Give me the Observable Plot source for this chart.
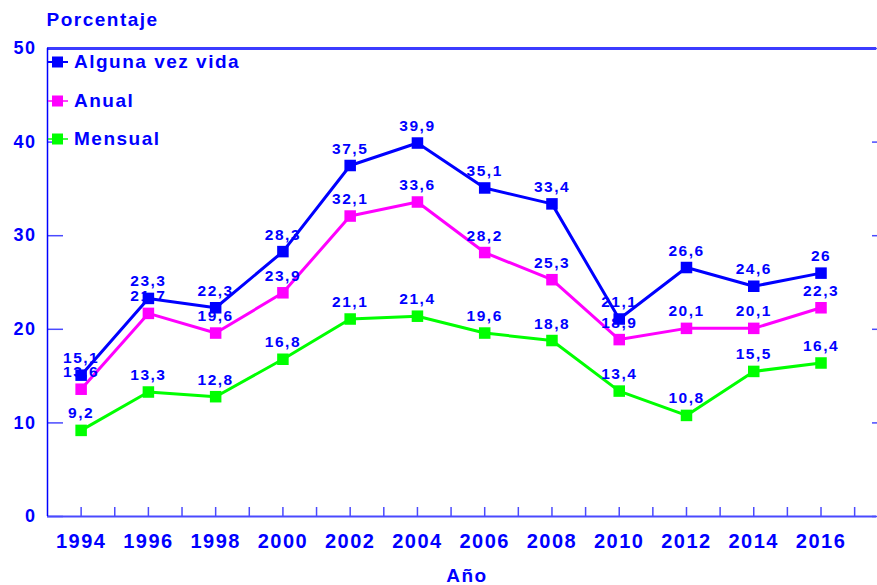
<!DOCTYPE html>
<html>
<head>
<meta charset="utf-8">
<script src="https://cdn.jsdelivr.net/npm/d3@7"></script>
<script src="https://cdn.jsdelivr.net/npm/@observablehq/plot@0.6"></script>
<style>
  html, body { margin: 0; padding: 0; background: #fff; }
  #wrap { position: relative; width: 877px; height: 585px; font-family: "Liberation Sans", Arial, sans-serif; font-weight: bold; color: #0000ff; letter-spacing: 1.5px; }
  #legend { position: absolute; left: 48px; top: 52px; }
  .row { display: flex; align-items: center; height: 20px; margin-bottom: 18.5px; font-size: 19px; }
  .row svg { margin-right: 6px; }
</style>
</head>
<body>
<div id="wrap"></div>
<script>
const years = [1994, 1996, 1998, 2000, 2002, 2004, 2006, 2008, 2010, 2012, 2014, 2016];
const seriesNames = ["Alguna vez vida", "Anual", "Mensual"];
const seriesColors = ["#0000ff", "#ff00ff", "#00ff00"];
const algunaVez = [15.1, 23.3, 22.3, 28.3, 37.5, 39.9, 35.1, 33.4, 21.1, 26.6, 24.6, 26];
const anual = [13.6, 21.7, 19.6, 23.9, 32.1, 33.6, 28.2, 25.3, 18.9, 20.1, 20.1, 22.3];
const mensual = [9.2, 13.3, 12.8, 16.8, 21.1, 21.4, 19.6, 18.8, 13.4, 10.8, 15.5, 16.4];
const yTicks = [0, 10, 20, 30, 40, 50];
const xMinorTicks = d3.range(1994, 2018);

const allValues = [algunaVez, anual, mensual];
const rows = [];
allValues.forEach((vals, s) => vals.forEach((v, i) => rows.push({year: years[i], value: v, series: seriesNames[s]})));
const drawOrder = ["Mensual", "Anual", "Alguna vez vida"];
const fmt = v => String(v).replace(".", ",");
const axisBlue = "#4a4aff";

const lineMarks = [];
drawOrder.forEach(name => {
  const d = rows.filter(r => r.series === name);
  const c = seriesColors[seriesNames.indexOf(name)];
  lineMarks.push(Plot.line(d, {x: "year", y: "value", stroke: c, strokeWidth: 3}));
  lineMarks.push(Plot.dot(d, {x: "year", y: "value", symbol: "square", r: 6.5, fill: c, stroke: "none"}));
});

const chart = Plot.plot({
  width: 877,
  height: 585,
  marginLeft: 47,
  marginTop: 48,
  marginRight: 1,
  marginBottom: 69,
  style: {fontFamily: "'Liberation Sans', Arial, sans-serif", fontWeight: "bold", letterSpacing: "1.5px", color: "#0000ff", background: "#fff"},
  x: {domain: [1993, 2017.65]},
  y: {domain: [0, 50]},
  marks: [
    Plot.axisY(yTicks, {anchor: "left", tickSize: -16, tickFormat: () => "", label: null, stroke: axisBlue, strokeWidth: 1.5}),
    Plot.axisY(yTicks, {anchor: "right", tickSize: -5, tickFormat: () => "", label: null, stroke: axisBlue, strokeWidth: 1.5}),
    Plot.axisY(yTicks, {anchor: "left", tickSize: 0, tickPadding: 11, label: null, fontSize: 18, fill: "#0000ff", fontWeight: "bold"}),
    Plot.axisX(xMinorTicks, {anchor: "bottom", tickSize: -9, tickFormat: () => "", label: null, stroke: axisBlue, strokeWidth: 1.5}),
    Plot.axisX(years, {anchor: "bottom", tickSize: 0, tickPadding: 17, tickFormat: d => String(d), label: null, fontSize: 20, fill: "#0000ff", fontWeight: "bold"}),
    Plot.ruleY([0], {stroke: axisBlue, strokeWidth: 2}),
    Plot.ruleY([50], {stroke: "#3c3cff", strokeWidth: 3}),
    Plot.ruleX([1993], {stroke: "#0000ff", strokeWidth: 1.5}),
    ...lineMarks,
    Plot.text(rows, {x: "year", y: "value", text: d => fmt(d.value), dy: -23, lineAnchor: "top", fontSize: 15.5, fill: "#0000ff", fontWeight: "bold"}),
    Plot.text(["Porcentaje"], {frameAnchor: "top-left", textAnchor: "start", lineAnchor: "top", dy: -36, dx: -1, fontSize: 19, fill: "#0000ff", fontWeight: "bold"}),
    Plot.text(["Año"], {frameAnchor: "bottom", lineAnchor: "top", dy: 52, dx: 5, fontSize: 19, fill: "#0000ff", fontWeight: "bold"})
  ]
});

const wrap = document.getElementById("wrap");
wrap.appendChild(chart);

const legend = document.createElement("div");
legend.id = "legend";
seriesNames.forEach((name, i) => {
  const row = document.createElement("div");
  row.className = "row";
  const c = seriesColors[i];
  row.innerHTML = `<svg width="20" height="14"><line x1="0" x2="20" y1="7" y2="7" stroke="${c}" stroke-width="${i === 0 ? 2 : 1.5}"/><rect x="4" y="1.5" width="11" height="11" fill="${c}"/></svg><span>${name}</span>`;
  legend.appendChild(row);
});
wrap.appendChild(legend);
</script>
</body>
</html>
